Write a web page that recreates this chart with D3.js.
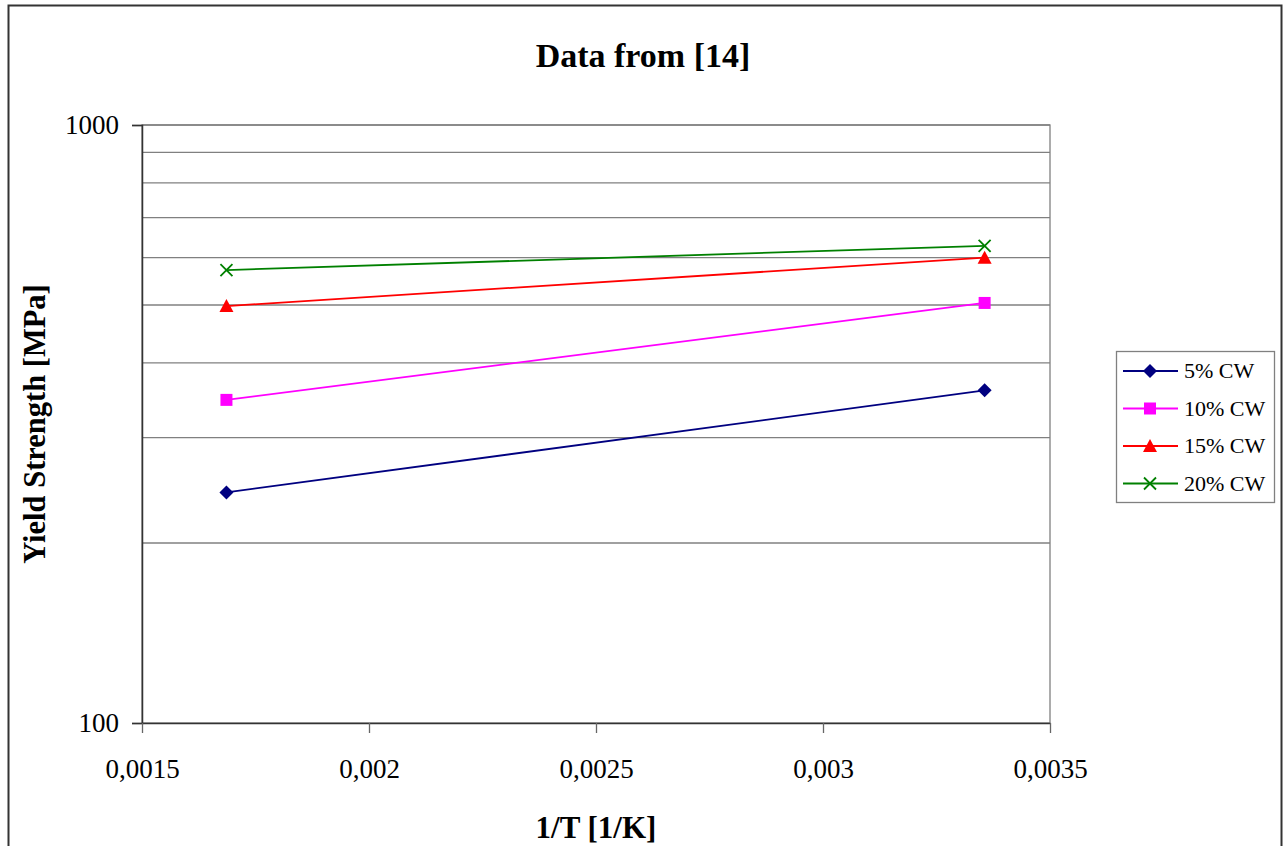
<!DOCTYPE html>
<html>
<head>
<meta charset="utf-8">
<script src="https://d3js.org/d3.v7.min.js"></script>
<style>
  body { margin: 0; background: #fff; }
  svg text { font-family: "Liberation Serif", "Times New Roman", serif; }
</style>
</head>
<body>
<svg id="chart" width="1288" height="846"></svg>
<script>
// inverse temperature, 1/K
const invT = [0.001686, 0.003356];

const seriesNames = ['5% CW', '10% CW', '15% CW', '20% CW'];
const seriesColors = ['#000080', '#FF00FF', '#FF0000', '#008000'];
const seriesSymbols = ['diamond', 'square', 'triangle', 'cross'];

// yield strength, MPa
const ys5 = [243, 360];
const ys10 = [347, 504];
const ys15 = [498, 600];
const ys20 = [572, 628];
const seriesValues = [ys5, ys10, ys15, ys20];

const xTicks = [0.0015, 0.002, 0.0025, 0.003, 0.0035];
const yGrid = [200, 300, 400, 500, 600, 700, 800, 900, 1000];
const yLabels = [100, 1000];

const svg = d3.select('#chart');
const margin = { left: 142, top: 125, right: 1050, bottom: 723 };

const x = d3.scaleLinear().domain([0.0015, 0.0035]).range([margin.left, margin.right]);
const y = d3.scaleLog().domain([100, 1000]).range([margin.bottom, margin.top]);

// outer chart border
svg.append('rect')
    .attr('x', 8.5).attr('y', 5.5)
    .attr('width', 1273).attr('height', 860)
    .attr('fill', 'none').attr('stroke', '#333').attr('stroke-width', 2);

// plot area border (gray)
svg.append('rect')
    .attr('x', margin.left).attr('y', margin.top)
    .attr('width', margin.right - margin.left).attr('height', margin.bottom - margin.top)
    .attr('fill', 'none').attr('stroke', '#808080').attr('stroke-width', 1.3);

// horizontal gridlines
svg.append('g').selectAll('line')
    .data(yGrid)
    .join('line')
    .attr('x1', margin.left).attr('x2', margin.right)
    .attr('y1', d => y(d)).attr('y2', d => y(d))
    .attr('stroke', '#808080').attr('stroke-width', 1.3);

// y axis
const yAxis = svg.append('g')
    .attr('transform', `translate(${margin.left},0)`)
    .call(d3.axisLeft(y).tickValues(yLabels).tickFormat(d3.format('d')).tickSize(10).tickPadding(13));
yAxis.select('.domain').attr('stroke', '#333').attr('stroke-width', 1.5);
yAxis.selectAll('.tick line').attr('stroke', '#333').attr('stroke-width', 1.3);
yAxis.selectAll('text')
    .style('font-size', '27px').attr('fill', '#000');

// x axis
const fmtX = d => String(d).replace('.', ',');
const xAxis = svg.append('g')
    .attr('transform', `translate(0,${margin.bottom})`)
    .call(d3.axisBottom(x).tickValues(xTicks).tickFormat(fmtX).tickSizeInner(10).tickSizeOuter(0).tickPadding(26));
xAxis.select('.domain').attr('stroke', '#333').attr('stroke-width', 1.5);
xAxis.selectAll('.tick line').attr('stroke', '#666').attr('stroke-width', 1.3);
xAxis.selectAll('text')
    .style('font-size', '27px').attr('fill', '#000');

// series lines + markers
const line = d3.line().x((d, i) => x(invT[i])).y(d => y(d));

function marker(g, type, color) {
    let d;
    if (type === 'cross') {
        const s = 6;
        g.append('path')
            .attr('d', `M${-s},${-s}L${s},${s}M${-s},${s}L${s},${-s}`)
            .attr('stroke', color).attr('stroke-width', 1.8).attr('fill', 'none');
        return;
    }
    if (type === 'diamond') d = 'M0,-7L7,0L0,7L-7,0Z';
    if (type === 'square') d = 'M-6,-6H6V6H-6Z';
    if (type === 'triangle') d = 'M0,-7L7,6H-7Z';
    g.append('path').attr('d', d).attr('fill', color);
}

seriesValues.forEach((vals, si) => {
    svg.append('path')
        .datum(vals)
        .attr('d', line)
        .attr('fill', 'none')
        .attr('stroke', seriesColors[si])
        .attr('stroke-width', 1.8);
    vals.forEach((v, i) => {
        const g = svg.append('g').attr('transform', `translate(${x(invT[i])},${y(v)})`);
        marker(g, seriesSymbols[si], seriesColors[si]);
    });
});

// legend
const legend = svg.append('g');
legend.append('rect')
    .attr('x', 1116.5).attr('y', 351.5).attr('width', 158).attr('height', 151)
    .attr('fill', '#fff').attr('stroke', '#808080').attr('stroke-width', 1.3);
seriesNames.forEach((name, i) => {
    const ly = 371 + i * 37.5;
    const g = legend.append('g');
    g.append('line')
        .attr('x1', 1123).attr('x2', 1178).attr('y1', ly).attr('y2', ly)
        .attr('stroke', seriesColors[i]).attr('stroke-width', 1.8);
    const mg = g.append('g').attr('transform', `translate(1150,${ly})`);
    marker(mg, seriesSymbols[i], seriesColors[i]);
    g.append('text')
        .attr('x', 1184).attr('y', ly + 7)
        .style('font-size', '22px').attr('fill', '#000')
        .text(name);
});

// titles
svg.append('text')
    .attr('x', 643).attr('y', 67)
    .attr('text-anchor', 'middle')
    .style('font-size', '34px').attr('font-weight', 'bold')
    .text('Data from [14]');

svg.append('text')
    .attr('x', 596).attr('y', 838)
    .attr('text-anchor', 'middle')
    .style('font-size', '31px').attr('font-weight', 'bold')
    .text('1/T [1/K]');

svg.append('text')
    .attr('transform', 'translate(45,424) rotate(-90)')
    .attr('text-anchor', 'middle')
    .style('font-size', '30.5px').attr('font-weight', 'bold')
    .text('Yield Strength [MPa]');
</script>
</body>
</html>
